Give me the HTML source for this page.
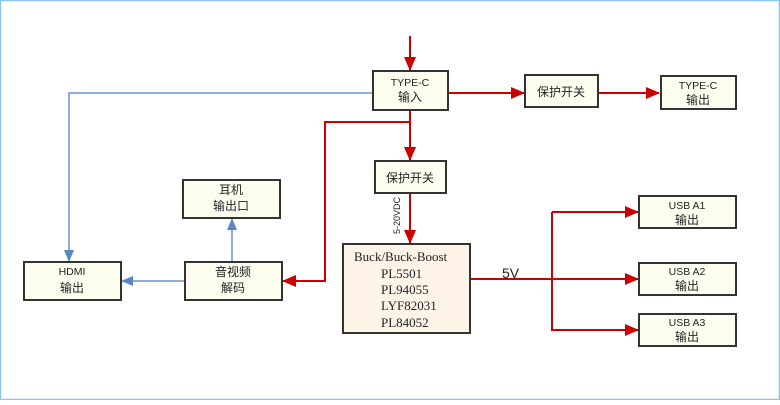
<!DOCTYPE html>
<html><head><meta charset="utf-8"><style>
body{margin:0;width:780px;height:400px;background:#fff;overflow:hidden}
svg text{font-family:"Liberation Sans","Noto Sans CJK SC",sans-serif;font-size:12px;fill:#222}
</style></head><body>
<svg width="780" height="400" viewBox="0 0 780 400">
<defs>
<marker id="rb" markerWidth="14" markerHeight="12" refX="13" refY="6" orient="auto" markerUnits="userSpaceOnUse"><path d="M0,0L14,6L0,12z" fill="#cc0000"/></marker>
<marker id="b" markerWidth="12" markerHeight="10" refX="11" refY="5" orient="auto" markerUnits="userSpaceOnUse"><path d="M0,0L12,5L0,10z" fill="#5b87c0"/></marker>
</defs>
<rect x="0.5" y="0.5" width="779" height="399" fill="none" stroke="#8cc4f0" stroke-width="1.5"/>
<g stroke="#6b93c8" stroke-width="1.5" fill="none">
<path d="M373,93H69V261" marker-end="url(#b)"/>
<path d="M185,281H122" marker-end="url(#b)"/>
<path d="M232,262V219" marker-end="url(#b)"/>
</g>
<g stroke="#cc0000" stroke-width="2" fill="none">
<path d="M410,36V70" marker-end="url(#rb)"/>
<path d="M448,93H524" marker-end="url(#rb)"/>
<path d="M598,93H659" marker-end="url(#rb)"/>
<path d="M410,110V160" marker-end="url(#rb)"/>
<path d="M410,122H325V281H283" marker-end="url(#rb)"/>
<path d="M410,193V243" marker-end="url(#rb)"/>
<path d="M470,279H638" marker-end="url(#rb)"/>
<path d="M552,212V330H638" marker-end="url(#rb)"/>
<path d="M552,212H638" marker-end="url(#rb)"/>
</g>
<g stroke="#333" stroke-width="2" fill="#fdfdf0">
<rect x="373" y="71" width="75" height="39"/>
<rect x="525" y="75" width="73" height="32"/>
<rect x="661" y="76" width="75" height="33"/>
<rect x="375" y="161" width="71" height="32"/>
<rect x="639" y="196" width="97" height="32"/>
<rect x="639" y="263" width="97" height="32"/>
<rect x="639" y="314" width="97" height="32"/>
<rect x="183" y="180" width="97" height="38"/>
<rect x="185" y="262" width="97" height="38"/>
<rect x="24" y="262" width="97" height="38"/>
<rect x="343" y="244" width="127" height="89" fill="#fdf3e7"/>
</g>
<g text-anchor="middle">
<text x="410" y="86" style="font-size:10.5px">TYPE-C</text><text x="410" y="101">输入</text>
<text x="561" y="96">保护开关</text>
<text x="698" y="89" style="font-size:10.5px">TYPE-C</text><text x="698" y="104">输出</text>
<text x="410" y="182">保护开关</text>
<text x="687" y="209" style="font-size:10.5px">USB A1</text><text x="687" y="224">输出</text>
<text x="687" y="275" style="font-size:10.5px">USB A2</text><text x="687" y="290">输出</text>
<text x="687" y="326" style="font-size:10.5px">USB A3</text><text x="687" y="341">输出</text>
<text x="231" y="194">耳机</text><text x="231" y="210">输出口</text>
<text x="233" y="276">音视频</text><text x="233" y="292">解码</text>
<text x="72" y="275" style="font-size:10.5px">HDMI</text><text x="72" y="292">输出</text>
</g>
<text x="354" y="261" style="font-family:'Liberation Serif',serif;font-size:13px">Buck/Buck-Boost</text>
<text x="381" y="278" style="font-family:'Liberation Serif',serif;font-size:13px">PL5501</text>
<text x="381" y="294" style="font-family:'Liberation Serif',serif;font-size:13px">PL94055</text>
<text x="381" y="310" style="font-family:'Liberation Serif',serif;font-size:13px">LYF82031</text>
<text x="381" y="327" style="font-family:'Liberation Serif',serif;font-size:13px">PL84052</text>
<text x="502" y="278" style="font-size:14px">5V</text>
<text transform="translate(400,234) rotate(-90)" style="font-size:9px">5-20VDC</text>
</svg>
</body></html>
